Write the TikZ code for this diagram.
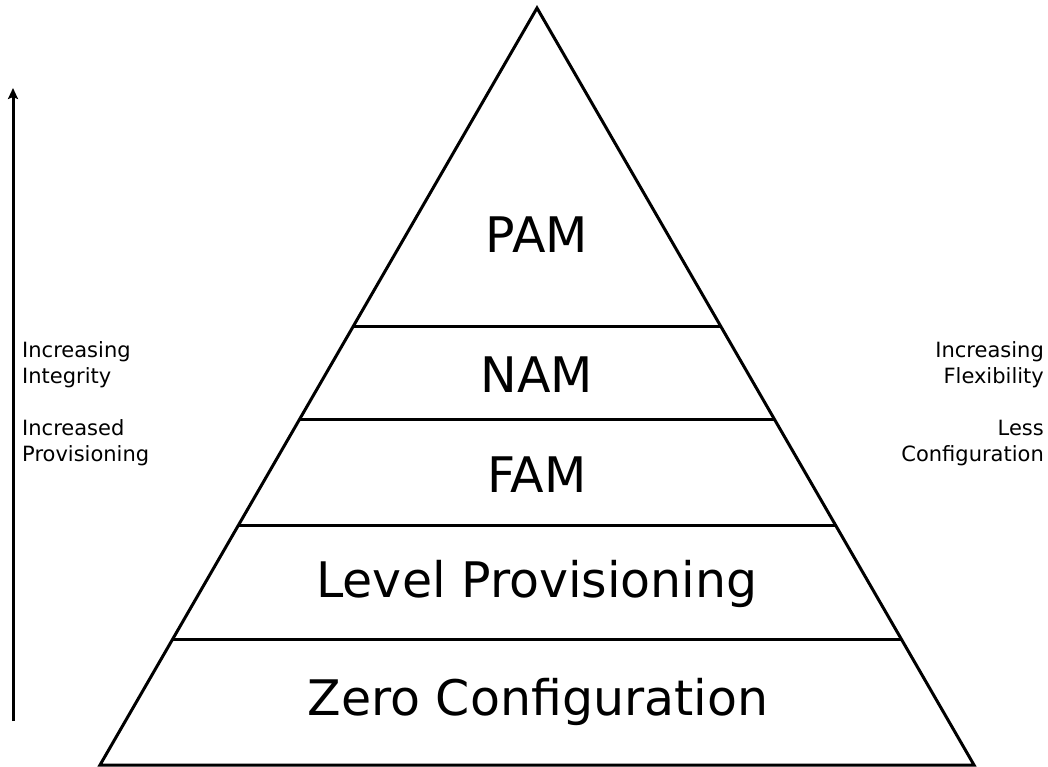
\documentclass[tikz,border=0pt]{standalone}
\usepackage{fontspec}
\setmainfont{DejaVu Sans}
\usetikzlibrary{arrows.meta,calc}
\begin{document}
\begin{tikzpicture}[x=1pt,y=-1pt,
  edge/.style={line width=3pt,line join=miter},
  big/.style={font=\fontsize{49}{56}\selectfont,inner sep=0pt,anchor=base},
  side/.style={font=\fontsize{21}{26}\selectfont,inner sep=0pt}]
\useasboundingbox (0,0) rectangle (1048,766);
\coordinate (apex) at (537,8);
\coordinate (bl) at (100,765);
\coordinate (br) at (974,765);
\draw[edge] (apex) -- (bl) -- (br) -- cycle;
% band boundaries
\foreach \y/\n in {326/a,419/b,526/c,639/d}{
  \pgfmathsetmacro{\t}{(\y-8)/757}
  \coordinate (l\n) at ($(apex)!\t!(bl)$);
  \coordinate (r\n) at ($(apex)!\t!(br)$);
  \draw[edge] (l\n) -- (r\n);
}
\node[big] (pam) at (537,252) {PAM};
\node[big] (nam) at (537,392) {NAM};
\node[big] (fam) at (537,492) {FAM};
\node[big] (lp) at (537,597) {Level Provisioning};
\node[big] (zc) at (538,715) {Zero Configuration};
% arrow
\coordinate (abot) at (13,721);
\coordinate (atop) at (13,88);
\draw[line width=3pt,-{Stealth[length=11pt,width=10pt,inset=2pt]}] (abot) -- (atop);
\node[side,anchor=base west,align=left] (lt1) at (22,383) {Increasing\\Integrity};
\node[side,anchor=base west,align=left] (lt2) at (22,461) {Increased\\Provisioning};
\node[side,anchor=base east,align=right] (rt1) at (1044,383) {Increasing\\Flexibility};
\node[side,anchor=base east,align=right] (rt2) at (1044,461) {Less\\Configuration};
\end{tikzpicture}
\end{document}
